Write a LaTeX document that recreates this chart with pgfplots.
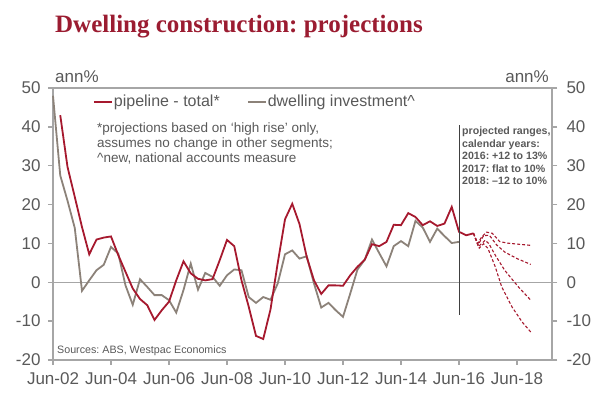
\documentclass[border=0pt]{standalone}
\usepackage{fontspec}
\setmainfont{Liberation Sans}
\newfontfamily\titlefont{Liberation Serif}
\usepackage{pgfplots}
\pgfplotsset{compat=1.18}
\definecolor{wred}{HTML}{A6192E}
\definecolor{wgray}{HTML}{8C8279}
\definecolor{axgray}{HTML}{A6A6A6}
\definecolor{txt}{HTML}{595959}
\definecolor{titlered}{HTML}{9B1C31}
\frenchspacing
\begin{document}
\begin{tikzpicture}[x=1pt,y=1pt]
\path[use as bounding box] (0,0) rectangle (606,399);
\pgfplotsset{
  common/.style={
    at={(53pt,39pt)}, anchor=south west, scale only axis,
    width=499pt, height=272pt,
    xmin=0, xmax=68.83, ymin=-20, ymax=50,
    ytick={-20,-10,...,50},
    tick align=outside, major tick length=5pt,
    tick style={axgray, line width=1.3pt},
    axis line style={axgray, line width=1.5pt},
    ticklabel style={font=\fontsize{17}{20}\selectfont, text=txt},
    /pgf/number format/assume math mode=true,
  }
}
\begin{axis}[common,
  xtick={0,8,...,64},
  xticklabels={Jun-02,Jun-04,Jun-06,Jun-08,Jun-10,Jun-12,Jun-14,Jun-16,Jun-18},
  xtick pos=bottom,
  ytick pos=both,
  yticklabel pos=left,
  yticklabel style={xshift=-4pt},
  xticklabel style={yshift=-4pt},
  clip=false,
  legend style={at={(axis description cs:0.080,0.9496)}, anchor=west,
    draw=none, fill=none, inner sep=0pt, outer sep=0pt,
    nodes={inner sep=1pt, text=txt},
    font=\fontsize{16}{18}\selectfont},
  legend columns=2,
  /tikz/every even column/.append style={column sep=26pt},
  legend image code/.code={\draw[#1] (0pt,0pt) -- (18pt,0pt);},
]
\addlegendimage{wred, line width=2pt}
\addlegendentry{pipeline - total*}
\addlegendimage{wgray, line width=2pt}
\addlegendentry{dwelling investment\textasciicircum}
% zero line
\addplot[axgray, line width=1.5pt, forget plot] coordinates {(0,0) (68.83,0)};
% dwelling investment
\addplot[wgray, line width=1.8pt, forget plot] coordinates {
(0,48) (1,27.5) (2,21) (3,14) (4,-2.2) (5,0.5) (6,3.1) (7,4.5) (8,9.1) (9,7.4)
(10,-0.8) (11,-5.8) (12,0.8) (13,-1.2) (14,-3.3) (15,-3.3) (16,-4.6) (17,-7.8) (18,-2) (19,4.8)
(20,-1.9) (21,2.4) (22,1.4) (23,-0.9) (24,1.8) (25,3.3) (26,3.1) (27,-3.8) (28,-5.3) (29,-3.8)
(30,-4.5) (31,-0.3) (32,7.2) (33,8.2) (34,6.1) (35,6.7) (36,-0.3) (37,-6.5) (38,-5.3) (39,-7.2)
(40,-8.9) (41,-2.9) (42,3.3) (43,5.8) (44,11) (45,7.5) (46,4.1) (47,9.3) (48,10.6) (49,9.3)
(50,15.8) (51,14.1) (52,10.4) (53,13.8) (54,11.9) (55,10.1) (56,10.4)
};
% pipeline total
\addplot[wred, line width=1.8pt, forget plot] coordinates {
(1,43) (2,29.7) (3,22) (4,14.2) (5,7.2) (6,11) (7,11.5) (8,11.8) (9,7)
(10,2.7) (11,-1.6) (12,-4.3) (13,-5.9) (14,-9.7) (15,-7.2) (16,-5) (17,0.5) (18,5.4) (19,2.3)
(20,0.9) (21,0.5) (22,0.8) (23,5.7) (24,10.9) (25,9.3) (26,0.5) (27,-6.3) (28,-13.8) (29,-14.6)
(30,-7) (31,5) (32,16.2) (33,20.2) (34,15) (35,6.5) (36,0.5) (37,-3) (38,-0.8) (39,-0.8)
(40,-0.9) (41,1.8) (42,4) (43,5.8) (44,9.8) (45,9.3) (46,10.4) (47,14.8) (48,14.7) (49,17.8)
(50,16.8) (51,14.7) (52,15.7) (53,14.5) (54,15.1) (55,19.4) (56,13) (57,12.1) (58,12.6)
};
% projections
\addplot[wred, line width=1.1pt, dash pattern=on 3pt off 2pt, forget plot] coordinates {
(58,12.6) (58.6,10.0) (59.1,11.6) (59.8,12.9) (60.6,12.6) (61.6,10.5) (62.6,10.1) (64.2,9.8) (65.9,9.5)};
\addplot[wred, line width=1.1pt, dash pattern=on 3pt off 2pt, forget plot] coordinates {
(58,12.6) (58.6,9.6) (59.4,12.0) (60.2,12.1) (61.2,9.6) (62.3,7.8) (64,6.1) (65.9,4.6)};
\addplot[wred, line width=1.1pt, dash pattern=on 3pt off 2pt, forget plot] coordinates {
(58,12.6) (58.7,9.2) (59.6,10.8) (60.1,10.0) (61,7.0) (62.3,3.1) (64.2,-1.2) (65.9,-4.6)};
\addplot[wred, line width=1.1pt, dash pattern=on 3pt off 2pt, forget plot] coordinates {
(58,12.6) (58.8,8.8) (59.4,9.9) (60,8.7) (61,4.0) (61.9,-1.2) (63.3,-6.3) (64.7,-10.2) (65.9,-12.8)};
% divider
\addplot[black!75, line width=0.8pt, forget plot] coordinates {(56,-8.3) (56,40.4)};
\end{axis}
\begin{axis}[common,
  axis y line*=right, axis x line=none,
  yticklabel pos=right,
  yticklabel style={xshift=6pt},
]
\end{axis}
% texts
\node[anchor=base west, inner sep=0pt, text=titlered, font=\titlefont\bfseries\fontsize{25}{28}\selectfont] at (55,366.7) {Dwelling construction: projections};
\node[anchor=base west, inner sep=0pt, text=txt, font=\fontsize{17}{20}\selectfont] at (55,316.3) {ann\%};
\node[anchor=base east, inner sep=0pt, text=txt, font=\fontsize{17}{20}\selectfont] at (549,316.3) {ann\%};
\begin{scope}[every node/.style={anchor=base west, inner sep=0pt, text=txt, font=\fontsize{13.5}{15}\selectfont}]
\node at (97,266.3) {*projections based on `high rise' only,};
\node at (97,251) {assumes no change in other segments;};
\node at (97,236) {\textasciicircum new, national accounts measure};
\end{scope}
\node[anchor=base west, inner sep=0pt, text=txt, font=\fontsize{10.7}{12}\selectfont] at (57,45) {Sources: ABS, Westpac Economics};
\begin{scope}[every node/.style={anchor=base west, inner sep=0pt, text=txt, font=\bfseries\fontsize{10.6}{12}\selectfont}]
\node at (462,264) {projected ranges,};
\node at (462,251.5) {calendar years:};
\node at (462,239) {2016: +12 to 13\%};
\node at (462,226.5) {2017: flat to 10\%};
\node at (462,214) {2018: --12 to 10\%};
\end{scope}
\end{tikzpicture}
\end{document}
